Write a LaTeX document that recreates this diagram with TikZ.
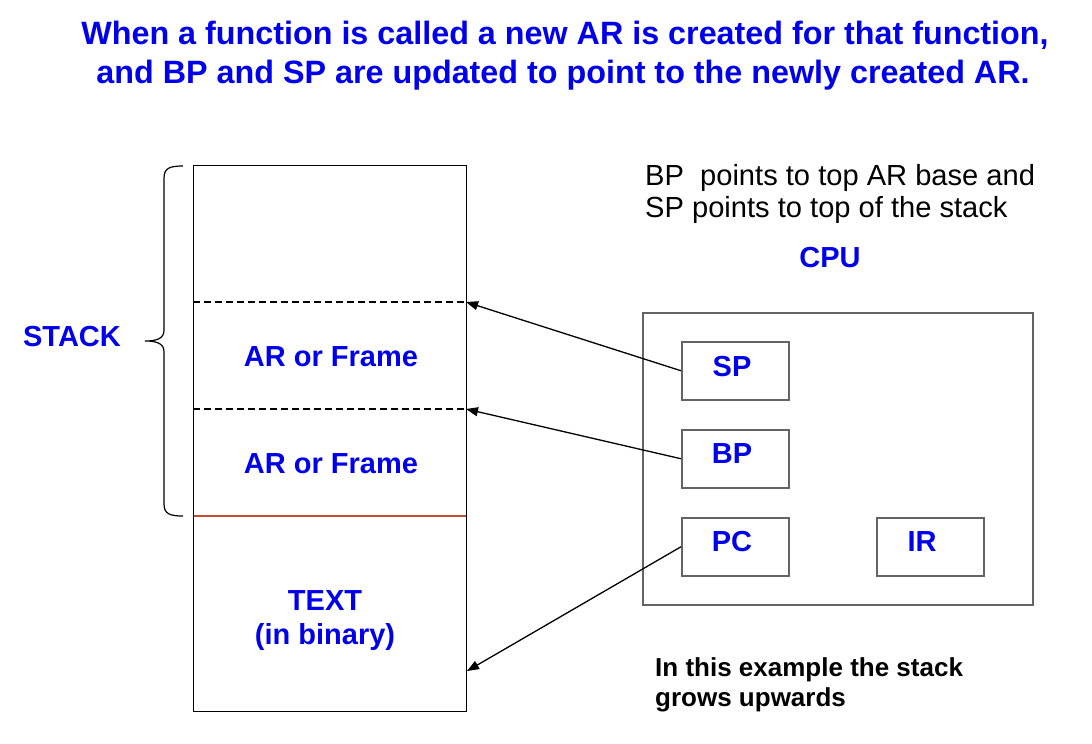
\documentclass[tikz,border=0pt]{standalone}
\usepackage{fontspec}
\setmainfont{Liberation Sans}
\usetikzlibrary{arrows.meta}

\definecolor{labelblue}{RGB}{0,0,235}
\definecolor{boxgray}{RGB}{100,100,100}
\definecolor{baseline red}{RGB}{196,76,50}

\tikzset{
  bluebold/.style={text=labelblue, font=\fontsize{29}{34}\selectfont\bfseries, inner sep=0pt},
  headline/.style={text=labelblue, font=\fontsize{32.3}{38}\selectfont\bfseries, inner sep=0pt},
  plainnote/.style={text=black, font=\fontsize{29.1}{34}\selectfont, inner sep=0pt},
  boldnote/.style={text=black, font=\fontsize{26}{31}\selectfont\bfseries, inner sep=0pt},
  regbox/.style={draw=boxgray, line width=1.5pt, minimum width=107pt, minimum height=58pt, inner sep=0pt},
  framesep/.style={dashed, dash pattern=on 7pt off 4pt, line width=1.3pt},
  pointer/.style={line width=1.3pt, -{Triangle[length=12pt,width=9pt]}},
}

\begin{document}
\begin{tikzpicture}[x=1pt,y=-1pt]
\useasboundingbox (0,0) rectangle (1092,744);

% heading
\node[headline, anchor=base] (title1) at (565,44) {When a function is called a new AR is created for that function,};
\node[headline, anchor=base] (title2) at (563,83) {and BP and SP are updated to point to the newly created AR.};

% memory column
\node[draw, line width=1.4pt, minimum width=273pt, minimum height=546pt, anchor=north west, inner sep=0pt] (stack) at (193,165) {};
\coordinate (sepA-l) at (193,302);
\coordinate (sepA-r) at (466,302);
\coordinate (sepB-l) at (193,409);
\coordinate (sepB-r) at (466,409);
\coordinate (stackbase-l) at (194,516);
\coordinate (stackbase-r) at (466,516);
\coordinate (textentry) at (467,671);
\draw[framesep] (sepA-l) -- (sepA-r);
\draw[framesep] (sepB-l) -- (sepB-r);
\draw[baseline red, line width=2.8pt] (stackbase-l) -- (stackbase-r);

\node[bluebold, anchor=base] (frame1) at (331,366) {AR or Frame};
\node[bluebold, anchor=base] (frame2) at (331,473) {AR or Frame};
\node[bluebold, anchor=base] (text1) at (325,610) {TEXT};
\node[bluebold, anchor=base] (text2) at (325,644) {(in binary)};

% brace spanning the stack segment
\draw[line width=1.2pt] (183,166) .. controls (170,166) and (164,168) .. (164,178)
  -- (164,330) .. controls (164,338) and (158,341) .. (145,341)
  .. controls (158,341) and (164,344) .. (164,352)
  -- (164,504) .. controls (164,514) and (170,516) .. (183,516);
\node[bluebold, anchor=base] (stacklabel) at (72,346) {STACK};

% notes
\node[plainnote, anchor=base west] (note1) at (645,185) {BP\ \ points to top AR base and};
\node[plainnote, anchor=base west] (note2) at (645,217) {SP points to top of the stack};
\node[boldnote, anchor=base west] (grow1) at (655,676) {In this example the stack};
\node[boldnote, anchor=base west] (grow2) at (655,706) {grows upwards};

% processor and its registers
\node[bluebold, anchor=base] (cpulabel) at (830,267) {CPU};
\node[draw=boxgray, line width=1.6pt, minimum width=390pt, minimum height=292pt, anchor=north west, inner sep=0pt] (cpu) at (642,312) {};
\node[regbox, anchor=north west] (sp) at (681,341) {};
\node[regbox, anchor=north west] (bp) at (681,429) {};
\node[regbox, anchor=north west] (pc) at (681,517) {};
\node[regbox, anchor=north west] (ir) at (876,517) {};
\node[bluebold, anchor=base] (splabel) at (732,376) {SP};
\node[bluebold, anchor=base] (bplabel) at (732,463) {BP};
\node[bluebold, anchor=base] (pclabel) at (732,551) {PC};
\node[bluebold, anchor=base] (irlabel) at (922,551) {IR};

% register pointers into memory
\draw[pointer] (sp.west) -- (sepA-r);
\draw[pointer] (bp.west) -- (sepB-r);
\draw[pointer] (pc.west) -- (textentry);
\end{tikzpicture}
\end{document}
